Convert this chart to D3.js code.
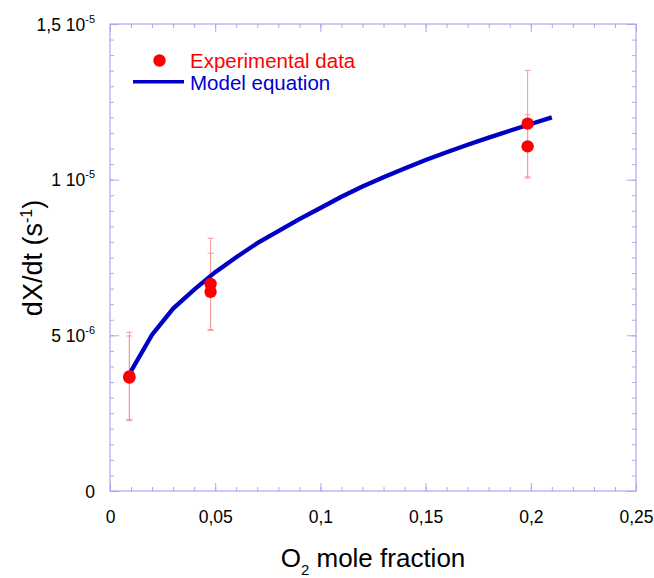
<html>
<script src='https://d3js.org/d3.v7.min.js'></script>
<style>
 body {margin:0; background:#fff;}
 text {font-family: 'Liberation Sans', Arial, sans-serif;}
</style>
<body>
<svg width=654 height=578></svg>
<script>
// tick labels
var xTicks = [0, 0.05, 0.1, 0.15, 0.2, 0.25];
var xTickLabels = ["0", "0,05", "0,1", "0,15", "0,2", "0,25"];
var yTicks = [0, 5e-6, 1e-5, 1.5e-5];
var yTickMant = ["0", "5 10", "1 10", "1,5 10"];
var yTickExp = ["", "-6", "-5", "-5"];

// experimental points (two runs per O2 fraction) with error bars
var expX = [0.0092, 0.0092, 0.0478, 0.0478, 0.1985, 0.1985];
var expY = [3.68e-6, 3.64e-6, 6.65e-6, 6.40e-6, 11.80e-6, 11.07e-6];
var expErr = [1.42e-6, 1.34e-6, 1.47e-6, 1.24e-6, 1.71e-6, 1.02e-6];

// model equation curve
var modelX = [0.01, 0.02, 0.03, 0.04, 0.05, 0.06, 0.07, 0.08, 0.09, 0.10, 0.11,
              0.12, 0.13, 0.14, 0.15, 0.16, 0.17, 0.18, 0.19, 0.20, 0.21];
var modelY = [3.85e-6, 5.02e-6, 5.86e-6, 6.47e-6, 7.03e-6, 7.51e-6, 7.96e-6, 8.35e-6,
              8.73e-6, 9.09e-6, 9.45e-6, 9.78e-6, 10.08e-6, 10.36e-6, 10.63e-6, 10.88e-6,
              11.12e-6, 11.35e-6, 11.57e-6, 11.79e-6, 12.00e-6];

var legendLabels = ["Experimental data", "Model equation"];

var axisColor = "#a9a9f2";
var x = d3.scaleLinear().domain([0, 0.25]).range([110, 636]);
var y = d3.scaleLinear().domain([0, 1.5e-5]).range([491, 24]);
var svg = d3.select("svg");

function styleAxis(g) {
  g.select(".domain").remove();
  g.selectAll("line").attr("stroke", axisColor);
  g.selectAll("text").attr("fill", "#000").attr("font-size", 17.5)
   .attr("font-family", "'Liberation Sans', Arial, sans-serif");
}

// minor + major ticks on all four sides, pointing inward
svg.append("g").attr("transform", "translate(0,491)")
  .call(d3.axisBottom(x).tickValues(x.ticks(25)).tickSize(-4).tickFormat("")).call(styleAxis);
svg.append("g").attr("transform", "translate(0,491)")
  .call(d3.axisBottom(x).tickValues(xTicks).tickSize(-8).tickPadding(20)
    .tickFormat(function (d, i) { return xTickLabels[i]; })).call(styleAxis);
svg.append("g").attr("transform", "translate(0,24)")
  .call(d3.axisTop(x).tickValues(x.ticks(25)).tickSize(-4).tickFormat("")).call(styleAxis);
svg.append("g").attr("transform", "translate(0,24)")
  .call(d3.axisTop(x).tickValues(xTicks).tickSize(-8).tickFormat("")).call(styleAxis);
svg.append("g").attr("transform", "translate(110,0)")
  .call(d3.axisLeft(y).tickValues(y.ticks(30)).tickSize(-4).tickFormat("")).call(styleAxis);
svg.append("g").attr("transform", "translate(110,0)")
  .call(d3.axisLeft(y).tickValues(yTicks).tickSize(-9).tickFormat("")).call(styleAxis);
svg.append("g").attr("transform", "translate(636,0)")
  .call(d3.axisRight(y).tickValues(y.ticks(30)).tickSize(-4).tickFormat("")).call(styleAxis);
svg.append("g").attr("transform", "translate(636,0)")
  .call(d3.axisRight(y).tickValues(yTicks).tickSize(-9).tickFormat("")).call(styleAxis);

svg.append("rect").attr("x", 110).attr("y", 24).attr("width", 526).attr("height", 467)
  .attr("fill", "none").attr("stroke", axisColor).attr("stroke-width", 1.2);

// y tick labels with exponent
var yl = svg.append("g").selectAll("text").data(yTicks).enter().append("text")
  .attr("x", 95).attr("y", function (d) { return y(d) + 6.5; })
  .attr("text-anchor", "end").attr("font-size", 17.5);
yl.append("tspan").text(function (d, i) { return yTickMant[i]; });
yl.append("tspan").attr("font-size", 11).attr("dy", -8)
  .text(function (d, i) { return yTickExp[i]; });

// error bars
var eb = svg.append("g").attr("stroke", "#f29a9a").attr("stroke-width", 1);
expX.forEach(function (xv, i) {
  var top = y(expY[i] + expErr[i]), bot = y(expY[i] - expErr[i]), cx = x(xv);
  eb.append("line").attr("x1", cx).attr("x2", cx).attr("y1", top).attr("y2", bot);
  eb.append("line").attr("x1", cx - 3).attr("x2", cx + 3).attr("y1", top).attr("y2", top);
  eb.append("line").attr("x1", cx - 3).attr("x2", cx + 3).attr("y1", bot).attr("y2", bot);
});

// model line
svg.append("path").datum(modelX)
  .attr("fill", "none").attr("stroke", "#0000c4").attr("stroke-width", 4.3)
  .attr("d", d3.line().x(function (d) { return x(d); }).y(function (d, i) { return y(modelY[i]); }));

// experimental points
svg.append("g").selectAll("circle").data(expX).enter().append("circle")
  .attr("cx", function (d) { return x(d); })
  .attr("cy", function (d, i) { return y(expY[i]); })
  .attr("r", 6.2).attr("fill", "#ff0000");

// legend
svg.append("circle").attr("cx", 159.5).attr("cy", 60.5).attr("r", 6.2).attr("fill", "#ff0000");
svg.append("text").attr("x", 190).attr("y", 67.5).attr("font-size", 20.5).attr("fill", "#ff0000")
  .text(legendLabels[0]);
svg.append("line").attr("x1", 133).attr("x2", 184).attr("y1", 81.7).attr("y2", 81.7)
  .attr("stroke", "#0000c4").attr("stroke-width", 3.5);
svg.append("text").attr("x", 190).attr("y", 89.5).attr("font-size", 20.5).attr("fill", "#0000d0")
  .text(legendLabels[1]);

// axis titles
var xt = svg.append("text").attr("x", 373).attr("y", 567).attr("text-anchor", "middle")
  .attr("font-size", 26);
xt.append("tspan").text("O");
xt.append("tspan").attr("font-size", 15).attr("dy", 8).text("2");
xt.append("tspan").attr("dy", -8).text(" mole fraction");

var yt = svg.append("text").attr("transform", "translate(42,258) rotate(-90)")
  .attr("text-anchor", "middle").attr("font-size", 27);
yt.append("tspan").text("dX/dt (s");
yt.append("tspan").attr("font-size", 16).attr("dy", -10).text("-1");
yt.append("tspan").attr("dy", 10).text(")");
</script>
</body>
</html>
